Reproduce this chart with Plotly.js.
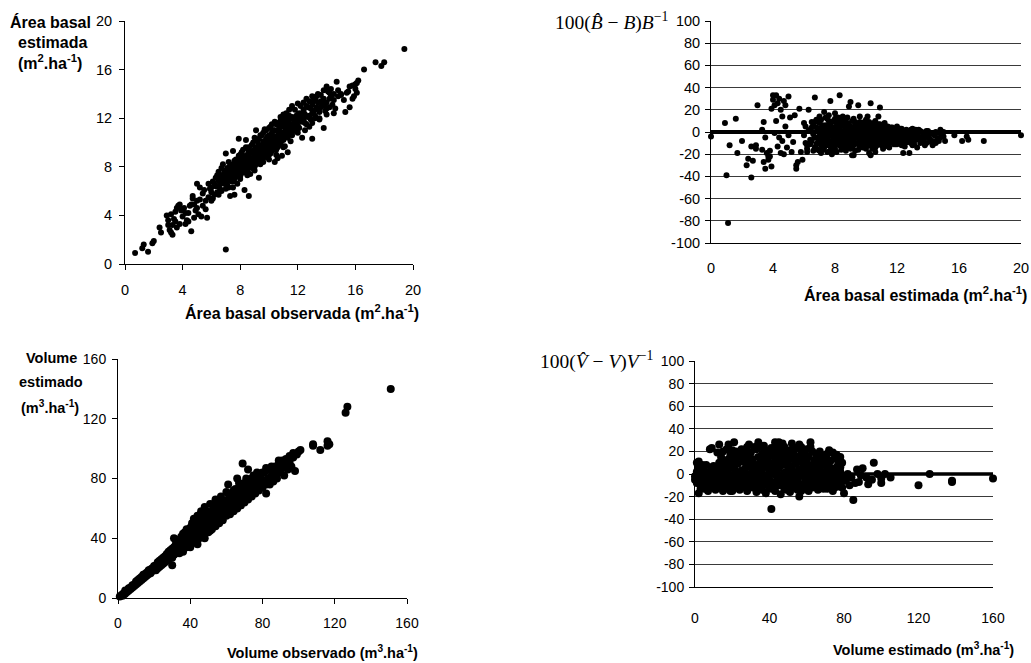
<!DOCTYPE html>
<html>
<head>
<meta charset="utf-8">
<script src="https://cdn.plot.ly/plotly-3.0.1.min.js"></script>
<style>html,body{margin:0;padding:0;background:#fff}#chart{width:1031px;height:663px}</style>
</head>
<body>
<div id="chart"></div>
<script>
// Panel A: observed vs estimated basal area (m2/ha) [observed, estimated]
const basalObsEst = [
[0.7,0.9],[1.2,1.3],[1.3,1.6],[1.6,1.0],[1.9,1.7],[2.0,1.9],[2.4,3.0],[2.5,2.6],[2.9,4.0],[3.0,3.2],
[3.1,2.8],[3.2,2.6],[3.3,2.4],[3.2,4.1],[3.4,3.7],[3.5,4.3],[3.6,3.0],[3.7,4.8],[3.8,4.9],[3.9,4.4],
[4.0,3.9],[4.1,4.6],[4.2,4.2],[4.3,3.6],[4.4,3.5],[4.5,4.8],[4.6,2.7],[4.7,5.4],[4.7,5.6],[4.8,4.9],
[4.9,4.4],[5.0,6.6],[5.0,5.2],[5.1,4.1],[5.2,6.3],[5.3,3.9],[5.4,4.8],[5.6,4.5],[5.7,3.8],[5.8,5.5],
[5.9,6.2],[6.0,5.9],[6.1,6.8],[6.2,5.7],[6.3,7.1],[6.3,6.4],[6.5,7.6],[6.5,6.9],[6.6,6.2],[6.7,7.9],
[6.8,8.2],[6.8,7.3],[6.9,6.6],[7.0,9.1],[7.0,7.7],[7.0,1.2],[7.1,7.0],[7.2,8.4],[7.2,6.3],[7.3,7.5],
[7.3,5.6],[7.4,8.0],[7.4,7.2],[7.5,9.3],[7.5,6.8],[7.6,7.8],[7.6,5.7],[7.7,8.6],[7.7,7.4],[7.8,8.1],
[7.8,6.6],[7.9,10.3],[7.9,7.7],[8.0,9.0],[8.0,8.2],[8.0,7.2],[8.1,8.7],[8.1,7.9],[8.2,9.4],[8.2,7.5],
[8.3,8.4],[8.3,6.1],[8.4,10.2],[8.4,8.9],[8.5,8.1],[8.5,7.7],[8.6,9.6],[8.6,5.6],[8.7,8.6],[8.7,7.4],
[8.8,9.3],[8.8,8.3],[8.9,10.0],[8.9,7.9],[9.0,9.1],[9.0,8.6],[9.1,11.0],[9.1,8.2],[9.2,9.6],[9.2,8.9],
[9.3,10.3],[9.3,7.1],[9.4,9.2],[9.4,8.7],[9.5,10.6],[9.5,9.8],[9.6,9.4],[9.6,8.4],[9.7,11.1],[9.7,10.0],
[9.8,9.1],[9.8,8.8],[9.9,10.5],[9.9,9.6],[10.0,10.2],[10.0,8.6],[10.1,11.3],[10.1,9.9],[10.2,10.7],[10.2,9.3],
[10.3,11.0],[10.3,9.8],[10.4,10.4],[10.4,8.4],[10.5,11.5],[10.5,10.1],[10.6,9.6],[10.6,8.7],[10.7,11.0],[10.7,10.3],
[10.8,11.8],[10.8,9.9],[10.9,10.6],[10.9,8.9],[11.0,11.4],[11.0,10.2],[11.1,12.0],[11.1,9.7],[11.2,11.0],[11.2,10.5],
[11.3,11.6],[11.3,9.2],[11.4,12.2],[11.4,10.8],[11.5,11.2],[11.6,12.1],[11.6,10.6],[11.7,11.5],[11.8,12.0],[11.9,10.9],
[12.0,12.3],[12.0,11.4],[12.2,11.8],[12.3,10.4],[12.4,12.5],[12.5,11.6],[12.6,13.0],[12.7,12.1],[12.8,11.3],[12.9,12.8],
[13.0,10.3],[13.0,12.4],[13.1,13.4],[13.2,12.0],[13.3,13.8],[13.4,12.7],[13.5,11.9],[13.6,13.4],[13.7,13.0],[13.8,11.2],
[13.9,13.2],[14.0,12.8],[14.1,14.2],[14.2,13.6],[14.3,14.4],[14.4,13.1],[14.5,14.0],[14.7,15.0],[14.8,13.8],[15.0,13.9],
[15.3,12.5],[15.5,14.2],[15.6,12.9],[15.8,14.7],[15.9,13.8],[16.0,14.8],[16.1,14.1],[16.2,15.1],[16.6,16.0],[17.4,16.6],
[17.8,16.3],[18.0,16.6],[19.4,17.7],
[6.5,6.4],[6.6,7.0],[6.6,6.6],[6.7,7.3],[6.8,6.9],[6.9,7.6],[6.9,7.1],[7.0,6.7],[7.0,7.4],[7.1,7.9],
[7.1,7.2],[7.2,6.9],[7.2,7.7],[7.3,8.1],[7.3,7.3],[7.4,6.8],[7.4,7.6],[7.5,8.2],[7.5,7.4],[7.6,7.0],
[7.6,8.5],[7.7,7.8],[7.7,7.2],[7.8,8.3],[7.8,7.6],[7.9,8.6],[7.9,7.3],[8.0,7.9],[8.0,8.5],[8.1,7.6],
[8.1,8.2],[8.2,8.8],[8.2,8.0],[8.3,7.8],[8.3,8.6],[8.4,8.2],[8.4,7.6],[8.5,9.0],[8.5,8.5],[8.6,8.0],
[8.6,8.8],[8.7,9.2],[8.7,8.3],[8.8,7.9],[8.8,8.7],[8.9,9.1],[8.9,8.5],[9.0,8.0],[9.0,9.4],[9.1,8.8],
[9.1,9.6],[9.2,8.4],[9.2,9.2],[9.3,9.8],[9.3,8.9],[9.4,9.5],[9.4,8.2],[9.5,9.0],[9.5,9.4],[9.6,10.1],
[9.6,9.0],[9.7,9.6],[9.7,8.8],[9.8,10.3],[9.8,9.5],[9.9,9.2],[9.9,10.0],[10.0,10.6],[10.0,9.6],[10.1,9.1],
[10.1,10.2],[10.2,10.0],[10.2,10.8],[10.3,9.5],[10.3,10.4],[10.4,11.0],[10.4,9.9],[10.5,10.5],[10.5,9.4],[10.6,10.9],
[10.6,10.2],[10.7,9.8],[10.7,11.2],[10.8,10.6],[10.8,10.0],[10.9,11.4],[10.9,10.3],[11.0,10.8],[11.0,11.7],[11.1,10.5],
[11.1,11.2],[11.2,11.8],[11.2,10.9],[11.3,11.3],[11.3,10.4],[11.4,11.6],[11.4,11.0],[11.5,12.0],[11.5,10.7],[11.6,11.4],
[11.7,11.9],[11.7,11.0],[11.8,11.6],[11.9,12.2],[11.9,11.3],[12.0,11.8],[12.1,12.4],[12.1,11.2],[12.2,12.1],[12.3,11.7],
[12.4,12.7],[12.4,11.9],[12.5,12.3],[12.6,11.5],[12.7,12.9],[12.8,12.2],[12.9,11.9],[13.0,13.1],[13.1,12.6],[13.2,12.2],
[13.3,12.9],[13.4,13.3],[13.5,12.5],[13.6,12.9],[13.8,13.6],[13.9,12.6],[14.0,13.3],[14.2,12.9],[14.3,13.8],[14.5,13.5],
[14.6,12.8],[14.8,14.3],[15.0,14.0],[15.2,13.5],[15.4,14.1],[15.6,14.6],[15.8,13.6],[16.0,14.4],[16.1,14.9],
[3.0,3.6],[3.3,3.2],[3.5,3.5],[3.6,4.6],[3.8,3.3],[4.0,4.5],[4.2,3.3],[4.4,4.2],[4.6,4.9],[4.8,3.8],
[5.0,4.6],[5.2,5.3],[5.4,5.8],[5.5,6.1],[5.6,5.2],[5.8,6.6],[6.0,6.3],[6.1,5.4],[6.2,6.6],[6.4,5.9],
[6.4,7.3],[6.7,6.0],[7.1,6.5],[7.3,6.9],[7.5,7.9],[7.9,8.9],[8.1,9.2],[8.4,9.6],[8.6,9.3],[8.8,9.8],
[9.0,10.4],[9.2,10.1],[9.4,10.6],[9.6,10.8],[9.8,11.0],[10.0,11.2],[10.2,11.5],[10.4,11.7],[10.6,11.6],[10.8,12.1],
[11.0,12.3],[11.2,12.4],[11.4,12.7],[11.6,13.0],[11.8,12.7],[12.0,13.2],[12.2,13.0],[12.4,13.3],[12.6,13.6],[12.8,13.4],
[13.0,13.8],[13.2,13.5],[13.4,14.0],[13.6,13.9],[13.8,14.3],[14.0,14.6],[14.2,14.1],[9.5,8.5],[10.0,9.0],[10.5,9.0],
[11.0,9.6],[11.5,10.1],[12.0,10.8],[12.5,11.0],[13.0,11.6],[13.5,12.0],[14.0,12.3],[14.5,12.4],[8.0,7.0],[8.5,7.3],
[9.0,7.7],[7.0,6.2],[7.5,6.3],[6.0,5.2],[6.5,5.7]
];

// Panel B: estimated basal area vs relative error (%) [estimated, error]
const basalResid = [
[0.0,-4],[0.9,8],[1.0,-39],[1.2,-12],[1.1,-82],[1.6,12],[1.7,-19],[2.0,-8],[2.3,-30],[2.4,-24],
[2.6,-41],[2.6,-13],[2.7,-26],[2.9,-15],[2.9,-12],[3.0,24],[3.3,2],[3.3,-16],[3.4,-27],[3.4,9],
[3.5,-33],[3.5,-5],[3.6,-19],[3.7,-22],[3.7,-25],[3.8,-22],[3.8,-17],[3.9,-31],[3.9,21],[4.0,29],
[4.0,33],[4.1,24],[4.1,-1],[4.2,33],[4.2,10],[4.3,26],[4.3,-13],[4.4,30],[4.4,-5],[4.5,20],
[4.5,-19],[4.6,14],[4.6,-8],[4.7,28],[4.7,-20],[4.8,24],[4.8,5],[4.9,-14],[5.0,32],[5.0,-3],
[5.1,13],[5.2,-18],[5.3,-9],[5.4,15],[5.5,-30],[5.5,-33],[5.6,-27],[5.7,21],[5.8,-18],[5.9,-25],
[6.0,8],[6.1,-10],[6.2,-15],[6.3,20],[6.4,2],[6.5,-8],[6.6,-17],[6.7,31],[6.8,11],[6.9,-5],
[7.0,14],[7.1,-19],[7.2,6],[7.3,18],[7.4,-3],[7.5,-12],[7.6,10],[7.7,28],[7.8,-20],[7.9,-6],
[8.0,17],[8.1,4],[8.2,-10],[8.3,33],[8.4,-16],[8.5,7],[8.6,-2],[8.7,12],[8.8,-13],[8.9,23],
[9.0,27],[9.1,-21],[9.2,-21],[9.3,6],[9.4,-4],[9.5,24],[9.6,-11],[9.7,3],[9.8,-7],[9.9,9],
[10.0,-15],[10.1,14],[10.2,-19],[10.3,-21],[10.3,26],[10.5,2],[10.6,-10],[10.7,5],[10.8,14],[10.9,22],
[11.0,-6],[11.2,-13],[11.3,1],[11.5,-8],[11.7,4],[11.9,-4],[12.0,-11],[12.2,3],[12.4,-19],[12.6,-7],
[12.8,-19],[12.9,2],[13.1,-8],[13.3,-14],[13.5,1],[13.7,-4],[13.9,-10],[14.1,-6],[14.3,-12],[14.5,0],
[14.7,-8],[14.9,-3],[15.1,-8],[15.7,-3],[16.2,-8],[16.5,-4],[16.6,-7],[17.6,-8],[20.0,-3],
[6.0,-3],[6.1,5],[6.2,-12],[6.3,1],[6.4,-7],[6.5,9],[6.6,-2],[6.7,-14],[6.8,4],[6.9,-9],
[7.0,-1],[7.0,8],[7.1,-6],[7.2,-16],[7.2,2],[7.3,-10],[7.4,6],[7.4,-4],[7.5,12],[7.5,-1],
[7.6,-8],[7.6,3],[7.7,-13],[7.7,7],[7.8,-3],[7.8,1],[7.9,-11],[7.9,10],[8.0,-5],[8.0,4],
[8.0,-15],[8.1,-1],[8.1,8],[8.2,-7],[8.2,13],[8.3,2],[8.3,-12],[8.4,-4],[8.4,6],[8.5,-9],
[8.5,0],[8.6,11],[8.6,-14],[8.7,3],[8.7,-6],[8.8,-2],[8.8,8],[8.9,-10],[8.9,1],[9.0,5],
[9.0,-4],[9.1,-13],[9.1,10],[9.2,-1],[9.2,-8],[9.3,3],[9.3,-17],[9.4,7],[9.4,-5],[9.5,-11],
[9.5,1],[9.6,9],[9.6,-3],[9.7,-8],[9.7,4],[9.8,-14],[9.8,0],[9.9,6],[9.9,-6],[10.0,2],
[10.0,-10],[10.1,-2],[10.1,8],[10.2,-7],[10.2,4],[10.3,-12],[10.3,0],[10.4,-4],[10.4,6],[10.5,-9],
[10.5,-1],[10.6,3],[10.6,-14],[10.7,-6],[10.7,1],[10.8,-3],[10.8,7],[10.9,-10],[10.9,-1],[11.0,4],
[11.0,-7],[11.1,-3],[11.1,2],[11.2,-9],[11.3,5],[11.3,-5],[11.4,-1],[11.4,-12],[11.5,3],[11.6,-6],
[11.6,0],[11.7,-9],[11.8,2],[11.8,-3],[11.9,-7],[12.0,1],[12.0,-5],[12.1,-10],[12.2,-2],[12.3,3],
[12.3,-7],[12.4,-4],[12.5,0],[12.6,-9],[12.7,-3],[12.8,1],[12.9,-6],[13.0,-12],[13.0,-2],[13.2,2],
[13.2,-7],[13.4,-4],[13.5,-10],[13.6,0],[13.7,-6],[13.8,-2],[14.0,-5],[14.0,1],[14.2,-9],[14.4,-3],
[14.6,-6],[14.8,2],[15.0,-4],
[6.6,6],[6.7,-5],[6.8,-11],[6.9,2],[7.0,-17],[7.0,3],[7.1,11],[7.1,-2],[7.2,-9],[7.3,4],
[7.3,-14],[7.4,13],[7.4,-7],[7.5,5],[7.5,-18],[7.6,-4],[7.6,15],[7.7,-10],[7.7,1],[7.8,-16],
[7.8,9],[7.9,-1],[7.9,-8],[8.0,12],[8.0,-12],[8.1,-18],[8.1,2],[8.2,6],[8.2,-4],[8.3,-9],
[8.3,10],[8.4,-13],[8.4,1],[8.5,14],[8.5,-6],[8.6,-10],[8.6,5],[8.7,-17],[8.7,-1],[8.8,13],
[8.8,-7],[8.9,-4],[8.9,6],[9.0,-9],[9.0,-15],[9.1,1],[9.1,-5],[9.2,12],[9.2,-12],[9.3,-3],
[9.3,9],[9.4,-10],[9.4,1],[9.5,-16],[9.5,6],[9.6,-7],[9.6,14],[9.7,-2],[9.7,-13],[9.8,8],
[9.8,-4],[9.9,-10],[9.9,2],[10.0,11],[10.0,-6],[10.1,-12],[10.1,4],[10.2,-3],[10.2,9],[10.3,-8],
[10.3,6],[10.4,-15],[10.4,0],[10.5,8],[10.5,-5],[10.6,-8],[10.6,10],[10.7,-12],[10.7,-2],[10.8,4],
[10.8,-8],[10.9,-5],[10.9,7],[11.0,-12],[11.0,0],[11.1,6],[11.1,-9],[11.2,-4],[11.2,3],[11.3,-10],
[11.4,5],[11.5,-3],[11.5,-10],[11.6,4],[11.7,-5],[11.8,-11],[11.9,0],[12.0,-8],[12.1,3],[12.2,-6],
[12.3,-12],[12.4,1],[12.5,-5],[12.6,2],[12.7,-9],[12.8,-4],[12.9,-10],[13.0,3],[13.1,-3],[13.3,-6],
[13.4,2],[13.6,-8],[13.8,-12],[13.9,1],[14.1,-2],[14.3,-8],[14.6,-1],[14.8,-5],[15.0,0],
[6.2,-18],[6.4,-11],[6.5,4],[6.7,9],[6.9,-16],[7.1,-12],[7.3,-4],[7.5,-7],[7.7,-17],[7.9,4],
[11.1,-15],[11.3,-2],[11.5,-14],[11.7,0],[11.9,-11],[12.1,-3],[12.3,-9],[12.5,-13],[12.7,1],[12.9,-2],
[13.1,-11],[13.3,-1],[13.5,-5],[13.7,-9],[13.9,-4],[14.2,-1],[14.5,-10],[12.0,5],[11.2,8],[10.6,-18]
];

// Panel C: observed vs estimated volume (m3/ha) [observed, estimated]
const volumeObsEst = [
[1,1],[2,2],[2.5,1.5],[3,3],[3.5,2.5],[4,4],[4,3],[5,5],[5,4],[6,6.5],
[6,5],[7,7],[7,6],[8,8.5],[8,7],[9,9],[9,8],[10,11],[10,9],[11,10],
[11,12],[12,11],[12,13],[13,12],[13,14],[14,13],[14,15.5],[15,14],[15,16],[16,15],
[16,17],[17,16],[17,18.5],[18,16.5],[18,19],[19,18],[19,20],[20,19],[20,21.5],[21,18.5],
[21,22],[22,20],[22,24],[23,21],[23,25],[24,22],[24,26],[25,23],[25,27],[26,24],
[26,28],[27,25],[27,29.5],[28,26],[28,31],[29,27],[29,32],[30,28],[30,22],[31,40],
[30,33],[31,29],[31,34],[32,30],[32,36],[33,31],[33,37],[34,30],[34,39],[35,33],
[35,41],[36,33],[36,43],[37,35],[37,44],[38,34],[38,46],[39,36],[39,42],[40,38],
[40,47],[41,37],[41,44],[42,40],[42,53],[43,39],[43,49],[44,41],[44,55],[45,40],
[45,51],[46,43],[46,58],[47,42],[47,53],[48,45],[48,61],[49,44],[49,55],[50,47],
[50,57],[51,45],[51,63],[52,49],[52,55],[53,50],[53,60],[54,48],[54,66],[55,52],
[55,57],[56,50],[56,63],[57,54],[57,68],[58,52],[58,60],[59,56],[59,65],[60,55],
[60,71],[61,58],[61,76],[62,56],[62,64],[63,60],[63,70],[64,58],[64,67],[65,62],
[65,73],[66,60],[66,80],[67,64],[67,70],[68,62],[68,74],[69,66],[69,90],[70,64],
[70,77],[71,68],[72,66],[72,86],[73,70],[73,78],[74,68],[75,72],[75,82],[76,70],
[77,74],[78,72],[78,80],[79,76],[80,74],[80,84],[81,78],[82,70],[82,87],[83,80],
[84,76],[85,82],[86,78],[87,84],[88,80],[89,86],[90,84],[91,88],[92,82],[93,90],
[94,86],[95,91],[96,88],[97,94],[98,85],[99,96],[100,98],[101,99],[108,102],[108,103],
[112,99],[116,105],[116,102],[117,103],[126,124],[127,128],[151,140],
[33,34],[36,38],[38,40],[40,42],[42,45],[44,47],[46,49],[48,51],[50,52],[52,58],
[54,56],[56,59],[58,64],[60,62],[62,68],[64,63],[66,70],[68,69],[70,72],[72,74],
[74,76],[76,78],[78,76],[80,79],[84,80],[88,84],[44,36],[48,40],[52,46],[56,54],
[60,58],[64,61],[68,65],[72,70],[76,74],[40,34],[36,31],[27,27],[24,24],[20,20],
[30,30],[32,34],[34,35],[35,37],[37,40],[39,45],[41,48],[43,44],[45,46],[47,49],
[49,52],[51,55],[53,57],[55,62],[57,58],[59,61],[61,66],[63,66],[65,68],[67,73],
[69,71],[71,76],[73,75],[75,77],[77,81],[79,83],[81,84],[83,86],[85,86],[87,88],
[89,90],[91,92],[93,93],[95,95],[97,97],[50,44],[54,52],[58,57],[62,60],[66,65],
[70,68],[74,72],[78,75],[82,78],[86,82],[90,86],[94,90],[45,43],[40,40],[35,35],
[30,27],[25,25],[22,22],[18,18],[15,15],[12,12],[10,10],[8,8],[6,6],[4,5],
[38,43],[41,50],[45,54],[49,58],[53,63],[57,65],[61,70],[64,72],[67,77],[71,80],
[74,80],[77,84],[85,88],[89,92],[42,38],[46,45],[50,50],[54,53],[58,55],[62,59],
[66,63],[70,66],[74,70],[78,73],[82,76],[86,80]
];

// Panel D: estimated volume vs relative error (%) [estimated, error]
const volumeResid = [
[1,10],[2,11],[4,8],[8,22],[9,23],[12,19],[13,26],[14,15],[15,20],[17,22],
[18,26],[19,17],[20,21],[21,28],[22,14],[24,18],[25,22],[27,15],[28,24],[29,26],
[30,19],[31,13],[33,22],[34,28],[35,24],[36,17],[37,25],[38,21],[39,14],[40,19],
[41,23],[42,16],[43,28],[44,25],[45,28],[46,22],[47,17],[48,24],[49,20],[50,14],
[51,21],[52,27],[53,18],[54,23],[55,15],[56,26],[57,20],[58,13],[59,18],[60,22],
[61,15],[62,28],[63,20],[64,12],[65,17],[66,14],[67,20],[68,11],[69,16],[70,13],
[71,18],[72,21],[73,12],[74,19],[75,14],[76,17],[77,9],[78,15],[79,10],
[0,-2],[0,-5],[1,-8],[1,2],[2,-17],[2,-4],[3,-13],[3,5],[4,-1],[4,-10],
[5,-6],[5,3],[6,-12],[6,8],[7,-3],[7,-15],[8,1],[8,-9],[9,-5],[9,6],
[10,-12],[10,2],[11,-2],[11,-14],[12,4],[12,-8],[13,-1],[13,10],[14,-11],[14,-4],
[15,5],[15,-15],[16,-7],[16,1],[17,9],[17,-12],[18,-3],[18,4],[19,-9],[19,12],
[20,-1],[20,-15],[21,6],[21,-6],[22,-12],[22,2],[23,-3],[23,9],[24,-14],[24,-7],
[25,3],[25,-1],[26,-10],[26,11],[27,-5],[27,5],[28,-15],[28,0],[29,-8],[29,8],
[30,-3],[30,13],[31,-12],[31,2],[32,-6],[32,7],[33,-16],[33,-1],[34,4],[34,-9],
[35,10],[35,-4],[36,-14],[36,1],[37,-7],[37,6],[38,-2],[38,-17],[39,9],[39,-10],
[40,3],[40,-5],[41,-31],[41,-12],[41,0],[42,7],[42,-8],[43,-15],[43,2],[44,-3],
[44,11],[45,-10],[45,5],[46,-1],[46,-18],[47,8],[47,-6],[48,-13],[48,1],[49,-4],
[49,12],[50,-9],[50,4],[51,-16],[51,-1],[52,6],[52,-7],[53,-12],[53,2],[54,-3],
[54,9],[55,-14],[55,-5],[56,4],[56,-20],[57,-9],[57,0],[58,7],[58,-13],[59,-4],
[59,3],[60,-10],[60,10],[61,-1],[61,-15],[62,5],[62,-7],[63,-12],[63,1],[64,-3],
[64,8],[65,-8],[65,3],[66,-14],[66,-1],[67,6],[67,-6],[68,-11],[68,2],[69,-3],
[69,9],[70,-9],[70,0],[71,4],[71,-13],[72,-5],[72,7],[73,-1],[73,-10],[74,3],
[74,-15],[75,-6],[75,1],[76,-3],[76,6],[77,-11],[77,-1],[78,2],[78,-8],[79,-4],
[80,-17],[80,-2],[81,-6],[82,0],[83,-10],[84,-3],[85,-23],[86,-8],[87,4],[88,-7],
[89,-1],[90,5],[92,-3],[93,-9],[95,-5],[96,10],[98,0],[100,-8],[100,-4],[102,0],
[105,-3],[120,-10],[126,0],[138,-6],[138,-7],[160,-4],
[3,-6],[6,-2],[9,-11],[12,-5],[15,-9],[18,-13],[21,-10],[24,-2],[27,-12],[30,-9],
[33,-6],[36,-8],[39,-3],[42,-13],[45,-6],[48,-8],[51,-11],[54,-9],[57,-15],[60,-4],
[63,-7],[66,-9],[69,-13],[72,-11],[75,-12],[10,7],[20,9],[30,6],[40,10],[50,9],
[60,5],[70,8],[16,12],[26,15],[36,12],[46,14],[56,11],[66,10],[44,18],[34,15],
[2,6],[5,-13],[8,-5],[11,5],[14,8],[17,-4],[19,-15],[22,-6],[25,-9],[28,-4],
[31,-7],[34,-13],[37,-1],[40,-13],[43,-8],[46,-10],[49,-14],[52,-3],[55,-9],[58,-1],
[61,-6],[64,-11],[67,-2],[70,-5],[73,-7],[76,-9],[79,-12],[13,4],[18,13],[23,15],
[28,11],[33,8],[38,15],[43,11],[48,9],[53,13],[58,17],[63,8],[68,15],[73,4],
[78,6],[22,20],[32,24],[42,21],[52,18],[62,24],[27,19],[37,20],[47,27],[57,24],[67,17]
];

// Reference (zero) lines
const zeroLineBasalX = [0, 20];
const zeroLineVolumeX = [0, 160];
const zeroLineY = [0, 0];

// Axis tick values
const basalTicks = [0, 4, 8, 12, 16, 20];
const volumeTicks = [0, 40, 80, 120, 160];
const errorTicks = [-100, -80, -60, -40, -20, 0, 20, 40, 60, 80, 100];

function pts(arr, xa, ya, size) {
  return {
    x: arr.map(p => p[0]), y: arr.map(p => p[1]),
    xaxis: xa, yaxis: ya, type: 'scatter', mode: 'markers', cliponaxis: false,
    marker: {color: '#000', size: size}, hoverinfo: 'x+y'
  };
}
function zline(xs, xa, ya, w) {
  return {x: xs, y: zeroLineY, xaxis: xa, yaxis: ya, type: 'scatter', mode: 'lines',
    line: {color: '#000', width: w}, cliponaxis: false, hoverinfo: 'skip'};
}

const data = [
  pts(basalObsEst, 'x', 'y', 6),
  pts(basalResid, 'x2', 'y2', 6),
  zline(zeroLineBasalX, 'x2', 'y2', 4),
  pts(volumeObsEst, 'x3', 'y3', 8),
  pts(volumeResid, 'x4', 'y4', 8),
  zline(zeroLineVolumeX, 'x4', 'y4', 3.5)
];

const W = 1031, H = 663;
const px = v => v / W, py = v => 1 - v / H;
const sans = 'Liberation Sans, Arial, sans-serif';
const serif = 'Liberation Serif, Times New Roman, serif';

function ax(domain, anchor, range, ticks, opts) {
  return Object.assign({
    domain: domain, anchor: anchor, range: range, tickmode: 'array', tickvals: ticks,
    ticktext: ticks.map(String), showline: true, linecolor: '#000', linewidth: 1,
    ticks: 'outside', ticklen: 5, tickcolor: '#000', showgrid: false, zeroline: false,
    tickfont: {family: sans, size: 14.5, color: '#000'}, fixedrange: true
  }, opts || {});
}

function label(text, x, y, size, family) {
  return {text: text, x: px(x), y: py(y), xref: 'paper', yref: 'paper',
    xanchor: 'center', yanchor: 'middle', showarrow: false, align: 'center',
    font: {family: family || sans, size: size, color: '#000'}};
}

const layout = {
  width: W, height: H, margin: {l: 0, r: 0, t: 0, b: 0},
  paper_bgcolor: '#fff', plot_bgcolor: 'rgba(0,0,0,0)', showlegend: false,
  xaxis: ax([px(125), px(413)], 'y', [0, 20], basalTicks, {ticklabelstandoff: 8}),
  yaxis: ax([py(264), py(21)], 'x', [0, 20], basalTicks, {ticklabelstandoff: 4}),
  xaxis2: ax([px(711), px(1021)], 'y2', [0, 20], basalTicks, {ticks: '', ticklabelstandoff: 12}),
  yaxis2: ax([py(243), py(21)], 'x2', [-100, 100], errorTicks,
    {showgrid: true, gridcolor: '#3a3a3a', gridwidth: 1, ticklabelstandoff: 2}),
  xaxis3: ax([px(118), px(407)], 'y3', [0, 160], volumeTicks,
    {ticklabelstandoff: 7, tickfont: {family: sans, size: 14, color: '#000'}}),
  yaxis3: ax([py(598), py(359)], 'x3', [0, 160], volumeTicks,
    {ticklabelstandoff: 3, tickfont: {family: sans, size: 14, color: '#000'}}),
  xaxis4: ax([px(695), px(993)], 'y4', [0, 160], volumeTicks,
    {ticks: '', ticklabelstandoff: 18, tickfont: {family: sans, size: 14, color: '#000'}}),
  yaxis4: ax([py(587), py(361)], 'x4', [-100, 100], errorTicks,
    {showgrid: true, gridcolor: '#3a3a3a', gridwidth: 1, ticklabelstandoff: 2,
     tickfont: {family: sans, size: 14, color: '#000'}}),
  annotations: [
    label('<b>Área basal</b>', 50, 22, 16),
    label('<b>estimada</b>', 52, 42, 16),
    label('<b>(m<sup>2</sup>.ha<sup>-1</sup>)</b>', 50, 62, 16),
    label('<b>Área basal observada (m<sup>2</sup>.ha<sup>-1</sup>)</b>', 302, 312, 16),
    label('100(<i>B\u0302</i> \u2212 <i>B</i>)<i>B</i><sup>\u22121</sup>', 611, 22, 19.5, serif),
    label('<b>Área basal estimada (m<sup>2</sup>.ha<sup>-1</sup>)</b>', 915, 294, 16),
    label('<b>Volume</b>', 51, 358, 14.5),
    label('<b>estimado</b>', 51, 382, 14.5),
    label('<b>(m<sup>3</sup>.ha<sup>-1</sup>)</b>', 50, 407, 14.5),
    label('<b>Volume observado (m<sup>3</sup>.ha<sup>-1</sup>)</b>', 322, 652, 14.5),
    label('100(<i>V\u0302</i> \u2212 <i>V</i>)<i>V</i><sup>\u22121</sup>', 596, 361, 19.5, serif),
    label('<b>Volume estimado (m<sup>3</sup>.ha<sup>-1</sup>)</b>', 923, 649, 14.5)
  ]
};

Plotly.newPlot('chart', data, layout, {displayModeBar: false, staticPlot: true});
</script>
</body>
</html>
